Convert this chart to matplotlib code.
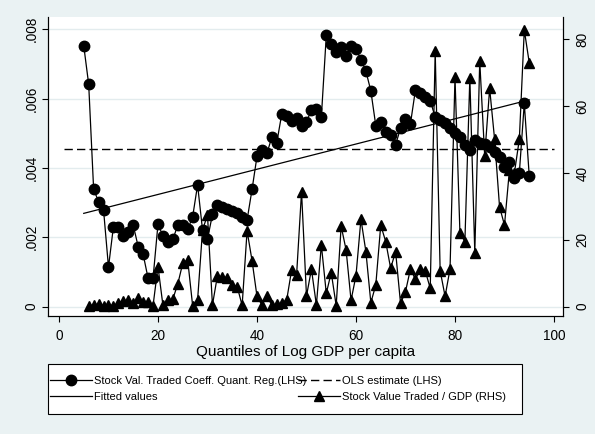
import matplotlib.pyplot as plt
from matplotlib.patches import Rectangle

plt.rcParams['font.family'] = ['Liberation Sans', 'DejaVu Sans']

# quantile regression coefficients (LHS), quantiles 5..95
quant_lhs = list(range(5, 96))
coef_qr = [
    0.00752, 0.00641, 0.00338, 0.00303, 0.00279, 0.00114, 0.00231, 0.00230, 0.00204, 0.00216,
    0.00235, 0.00173, 0.00151, 0.00082, 0.00082, 0.00238, 0.00204, 0.00187, 0.00194, 0.00235,
    0.00235, 0.00223, 0.00259, 0.00351, 0.00221, 0.00194, 0.00266, 0.00293, 0.00288, 0.00282,
    0.00277, 0.00271, 0.00259, 0.00250, 0.00338, 0.00433, 0.00452, 0.00442, 0.00488, 0.00473,
    0.00555, 0.00549, 0.00535, 0.00543, 0.00522, 0.00533, 0.00567, 0.00569, 0.00546, 0.00782,
    0.00757, 0.00735, 0.00748, 0.00722, 0.00750, 0.00743, 0.00712, 0.00679, 0.00622, 0.00522,
    0.00533, 0.00504, 0.00495, 0.00467, 0.00514, 0.00540, 0.00527, 0.00624, 0.00615, 0.00605,
    0.00594, 0.00546, 0.00538, 0.00528, 0.00515, 0.00501, 0.00490, 0.00466, 0.00452, 0.00481,
    0.00471, 0.00468, 0.00461, 0.00447, 0.00432, 0.00403, 0.00418, 0.00370, 0.00386, 0.00586,
    0.00377,
]

# stock value traded / GDP (RHS), quantiles 6..95
quant_rhs = list(range(6, 96))
traded_gdp = [
    0.3, 0.5, 0.8, 0.3, 0.6, 0.3, 1.0, 1.8, 2.0, 1.0,
    2.5, 1.5, 1.5, 0.3, 12.0, 0.4, 2.0, 2.3, 6.8, 13.0,
    14.0, 0.3, 2.0, 23.0, 27.4, 0.5, 9.2, 8.9, 8.7, 6.5,
    6.0, 0.4, 22.7, 13.8, 3.1, 0.5, 3.1, 0.5, 0.7, 1.0,
    2.0, 11.0, 9.5, 34.4, 3.2, 11.2, 0.5, 18.5, 4.0, 10.2,
    0.3, 24.1, 17.0, 1.9, 9.3, 26.2, 16.5, 1.2, 6.5, 24.4,
    19.5, 11.5, 16.5, 1.0, 4.5, 11.3, 8.2, 11.2, 10.7, 5.5,
    76.5, 10.8, 3.1, 11.3, 68.7, 22.0, 19.5, 68.5, 16.2, 73.5,
    45.1, 65.3, 50.1, 29.9, 24.4, 40.9, 40.0, 50.1, 82.8, 73.0,
]

# fitted line and OLS estimate (LHS)
fit_q = [5, 95]
fit_vals = [0.00269, 0.00596]
ols_q = [1, 100]
ols_vals = [0.00454, 0.00454]

W, H = 595, 434
bg = '#eaf2f3'

fig = plt.figure(figsize=(W / 100, H / 100), dpi=100, facecolor=bg)
# plot region in pixels: x 48..563, y 17..316
ax = fig.add_axes([48 / W, 1 - 316 / H, 515 / W, 299 / H])
ax.set_facecolor('white')
ax.set_xlim(-2.22, 101.82)
ax.set_ylim(-0.000268, 0.008349)

ax2 = ax.twinx()
ax2.set_ylim(-2.78, 86.67)

for a in (ax, ax2):
    a.spines['top'].set_visible(False)
    for s in ('left', 'right', 'bottom'):
        a.spines[s].set_linewidth(0.8)

ax.set_axisbelow(True)
ax.yaxis.grid(True, color='#e3ecee', lw=1.0)

ax.set_xticks([0, 20, 40, 60, 80, 100])
ax.set_yticks([0, 0.002, 0.004, 0.006, 0.008])
ax.set_yticklabels(['0', '.002', '.004', '.006', '.008'], rotation=90, va='center')
ax2.set_yticks([0, 20, 40, 60, 80])
ax2.set_yticklabels(['0', '20', '40', '60', '80'], rotation=90, va='center')
ax.tick_params(axis='both', direction='out', length=4, width=0.8, labelsize=9.8, pad=3)
ax.tick_params(axis='x', pad=5.5)
ax2.tick_params(axis='y', direction='out', length=4, width=0.8, labelsize=9.8, pad=5)
ax.set_xlabel('Quantiles of Log GDP per capita', fontsize=11, labelpad=1)

h_circ, = ax.plot(quant_lhs, coef_qr, '-o', color='black', lw=0.9, ms=7.5)
h_fit, = ax.plot(fit_q, fit_vals, '-', color='black', lw=0.9)
h_ols, = ax.plot(ols_q, ols_vals, color='black', lw=1.0, dashes=(6, 3))
h_tri, = ax2.plot(quant_rhs, traded_gdp, '-^', color='black', lw=0.9, ms=7.5)

# legend box: x 48..522, y 364..414 (pixels from top)
fig.patches.append(Rectangle((48 / W, 1 - 414 / H), 474 / W, 50 / H, transform=fig.transFigure,
                             facecolor='white', edgecolor='black', lw=0.8, zorder=5))
labels = ['Stock Val. Traded Coeff. Quant. Reg.(LHS)', 'Fitted values',
          'OLS estimate (LHS)', 'Stock Value Traded / GDP (RHS)']
leg = fig.legend([h_circ, h_fit, h_ols, h_tri], labels, ncol=2, loc='center left',
                 bbox_to_anchor=(50 / W, 1 - 389 / H), fontsize=8, frameon=False,
                 handlelength=3.8, handletextpad=0.2, columnspacing=-0.8,
                 numpoints=1, borderaxespad=0, borderpad=0, labelspacing=0.47)
leg.set_zorder(6)

fig.savefig('out.png', dpi=100, facecolor=bg)
